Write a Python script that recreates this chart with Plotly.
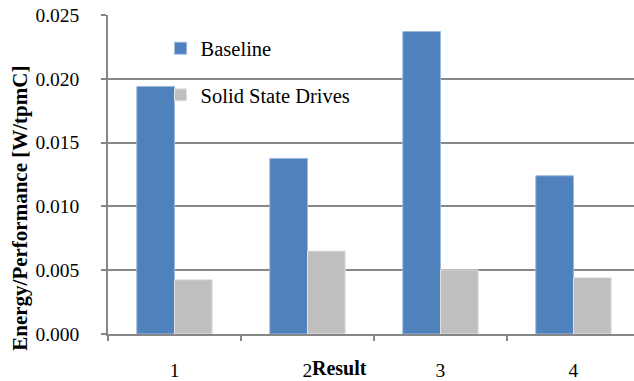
import plotly.graph_objects as go

# Data
categories = [1, 2, 3, 4]
tick_text = ["1", "2", "3", "4"]
baseline = [0.0194, 0.01376, 0.0237, 0.0124]
ssd = [0.00425, 0.0065, 0.00502, 0.00441]
y_ticks = [0.000, 0.005, 0.010, 0.015, 0.020, 0.025]

BLUE = "#4F81BD"
GRAY = "#BFBFBF"
AXIS = "#878787"
SERIF = "Liberation Serif"

fig = go.Figure()
fig.add_bar(x=categories, y=baseline, name="Baseline", legendgroup="base",
            marker=dict(color=BLUE, line=dict(color="#9db9de", width=1)))
fig.add_bar(x=categories, y=ssd, name="Solid State Drives", legendgroup="ssd",
            marker=dict(color=GRAY, line=dict(color="#e2e2e2", width=1)))

fig.update_layout(
    width=634, height=381,
    margin=dict(l=108, r=0, t=15, b=45),
    barmode="group", bargap=0.433, bargroupgap=0,
    paper_bgcolor="white", plot_bgcolor="white",
    font=dict(family=SERIF, color="black", size=19.5),
    legend=dict(x=0.1, y=0.958, xanchor="left", yanchor="top",
                font=dict(size=20.5, family=SERIF), traceorder="grouped",
                tracegroupgap=17, itemwidth=30,
                bgcolor="rgba(0,0,0,0)", borderwidth=0),
    xaxis=dict(
        range=[0.5, 4.455], tickmode="array", tickvals=categories, ticktext=tick_text,
        ticks="", showline=True, linecolor=AXIS, linewidth=1.5,
        showgrid=False, zeroline=False, ticklabelstandoff=18,
        minor=dict(tickmode="linear", tick0=0.5, dtick=1, ticks="outside",
                   ticklen=5, tickcolor=AXIS, tickwidth=1.5, showgrid=False),
    ),
    yaxis=dict(
        range=[0, 0.025], tickmode="array", tickvals=y_ticks, tickformat=".3f",
        ticks="outside", ticklen=5, tickcolor=AXIS, tickwidth=1.5,
        showline=True, linecolor=AXIS, linewidth=1.5,
        showgrid=True, gridcolor=AXIS, gridwidth=1.5, zeroline=False,
        ticklabelstandoff=18,
    ),
    annotations=[
        dict(text="<b>Energy/Performance [W/tpmC]</b>", textangle=-90,
             xref="paper", yref="paper", x=(20 - 108) / 526, y=(381 - 45 - 210) / 321,
             xanchor="center", yanchor="middle", showarrow=False,
             font=dict(size=21, family=SERIF)),
        dict(text="<b>Result</b>", xref="paper", yref="paper",
             x=(339 - 108) / 526, y=(381 - 45 - 370) / 321,
             xanchor="center", yanchor="middle", showarrow=False,
             font=dict(size=20, family=SERIF)),
    ],
)

fig.write_html("out.html")
